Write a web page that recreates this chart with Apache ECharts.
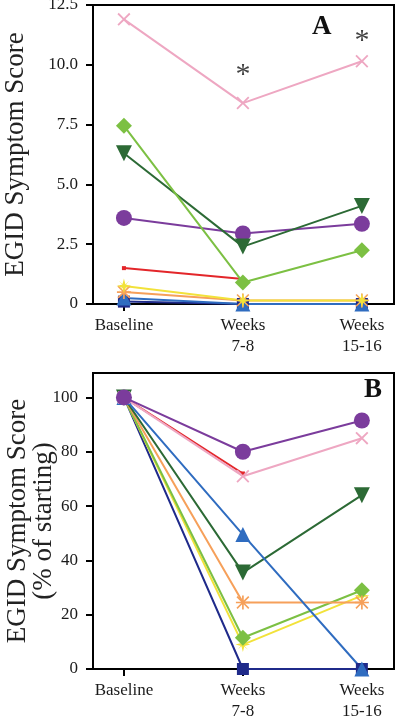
<!DOCTYPE html>
<html>
<head>
<meta charset="utf-8">
<script src="https://cdn.jsdelivr.net/npm/echarts@6/dist/echarts.min.js"></script>
<style>
html,body{margin:0;padding:0;background:#fff;}
#chart{width:400px;height:716px;}
</style>
</head>
<body>
<div id="chart"></div>
<script>
// ---- data ----
const categories = ['Baseline', 'Weeks\n7-8', 'Weeks\n15-16'];
const yTicksA = [0, 2.5, 5, 7.5, 10, 12.5];
const yTickLabelsA = ['0', '2.5', '5.0', '7.5', '10.0', '12.5'];
const yTicksB = [0, 20, 40, 60, 80, 100];
const yTickLabelsB = ['0', '20', '40', '60', '80', '100'];

// Panel A: raw EGID symptom scores
const navyA   = [0.1, 0, 0];
const blueA   = [0.25, 0, 0];
const orangeA = [0.5, 0.15, 0.15];
const yellowA = [0.75, 0.15, 0.15];
const redA    = [1.5, 1.05];
const purpleA = [3.6, 2.95, 3.35];
const dkgreenA = [6.3, 2.4, 4.1];
const ltgreenA = [7.45, 0.9, 2.25];
const pinkA   = [11.9, 8.4, 10.15];

// Panel B: % of starting
const navyB   = [100, 0, 0];
const blueB   = [100, 49.5, 0];
const orangeB = [100, 24.5, 24.5];
const yellowB = [100, 9, 27];
const redB    = [100, 72];
const purpleB = [100, 80, 91.5];
const dkgreenB = [100, 35.5, 64];
const ltgreenB = [100, 11.5, 29];
const pinkB   = [100, 71, 85];

// significance markers in panel A
const starsA = [[1, 9.55], [2, 11.0]];

// ---- styles ----
const XPATH = 'path://M1,0 L5,4 L9,0 L10,1 L6,5 L10,9 L9,10 L5,6 L1,10 L0,9 L4,5 L0,1 Z';
const ASTPATH = 'path://M4.4,0 L5.6,0 L5.6,10 L4.4,10 Z M0,4.4 L10,4.4 L10,5.6 L0,5.6 Z M1.2,0.4 L5,4.2 L8.8,0.4 L9.6,1.2 L5.8,5 L9.6,8.8 L8.8,9.6 L5,5.8 L1.2,9.6 L0.4,8.8 L4.2,5 L0.4,1.2 Z';
const STARPATH = 'path://M5,0 L6,4 L10,5 L6,6 L5,10 L4,6 L0,5 L4,4 Z M1.5,1.5 L5.3,4.6 L8.5,1.5 L5.4,5.3 L8.5,8.5 L4.7,5.4 L1.5,8.5 L4.6,4.7 Z';

const styles = {
  navy:    {color: '#1f2a8a', symbol: 'rect', size: 12, rotate: 0},
  blue:    {color: '#2f6cc0', symbol: 'triangle', size: 15, rotate: 0},
  orange:  {color: '#f6a05a', symbol: ASTPATH, size: 14, rotate: 0},
  yellow:  {color: '#f2e23a', symbol: STARPATH, size: 15, rotate: 0},
  red:     {color: '#e3262a', symbol: 'rect', size: 4, rotate: 0},
  purple:  {color: '#7b3c9c', symbol: 'circle', size: 16, rotate: 0},
  dkgreen: {color: '#2c6a35', symbol: 'triangle', size: 16, rotate: 180},
  ltgreen: {color: '#7cc043', symbol: 'diamond', size: 16, rotate: 0},
  pink:    {color: '#eea7c2', symbol: XPATH, size: 13, rotate: 0}
};

const panelA = {navy: navyA, blue: blueA, orange: orangeA, yellow: yellowA, red: redA, purple: purpleA, dkgreen: dkgreenA, ltgreen: ltgreenA, pink: pinkA};
const panelB = {navy: navyB, blue: blueB, orange: orangeB, yellow: yellowB, red: redB, purple: purpleB, dkgreen: dkgreenB, ltgreen: ltgreenB, pink: pinkB};
const orderA = ['navy', 'blue', 'orange', 'yellow', 'red', 'purple', 'dkgreen', 'ltgreen', 'pink'];
const orderB = ['navy', 'yellow', 'ltgreen', 'orange', 'dkgreen', 'blue', 'red', 'pink', 'purple'];

function mkSeries(vals, key, idx) {
  const s = styles[key];
  return {
    type: 'line',
    name: key + idx,
    xAxisIndex: idx, yAxisIndex: idx,
    data: vals.map((v, i) => [i, v]),
    symbol: s.symbol, symbolSize: s.size, symbolRotate: s.rotate,
    showAllSymbol: true,
    lineStyle: {color: s.color, width: 2},
    itemStyle: {color: s.color},
    emphasis: {disabled: true},
    animation: false, z: 3
  };
}

const series = [];
orderA.forEach(k => series.push(mkSeries(panelA[k], k, 0)));
orderB.forEach(k => series.push(mkSeries(panelB[k], k, 1)));
series.push({
  type: 'scatter', xAxisIndex: 0, yAxisIndex: 0,
  data: starsA, symbolSize: 1, itemStyle: {color: 'rgba(0,0,0,0)'},
  label: {show: true, position: 'inside', formatter: '*', color: '#111', fontSize: 30, fontFamily: 'Liberation Serif'},
  animation: false, silent: true
});

const FONT = 'Liberation Serif';
function xAxis(idx) {
  return {
    type: 'value', gridIndex: idx, min: -0.26, max: 2.27,
    axisLine: {show: true, onZero: false, lineStyle: {color: '#000', width: 2}},
    axisTick: {show: true, customValues: [0, 1, 2], length: 7, lineStyle: {color: '#000', width: 2}},
    axisLabel: {customValues: [0, 1, 2], formatter: v => categories[Math.round(v)], fontFamily: FONT, fontSize: 17, color: '#1a1a1a', lineHeight: 21, margin: 11},
    splitLine: {show: false}
  };
}
function yAxis(idx, ticks, labels, max, name, nameGap) {
  return {
    type: 'value', gridIndex: idx, min: 0, max: max,
    name: name, nameLocation: 'middle', nameGap: nameGap, nameRotate: 90,
    nameMoveOverlap: false,
    nameTextStyle: {fontFamily: FONT, fontSize: 27, color: '#222', lineHeight: 26},
    axisLine: {show: true, onZero: false, lineStyle: {color: '#000', width: 2}},
    axisTick: {show: true, customValues: ticks, length: 7, lineStyle: {color: '#000', width: 2}},
    axisLabel: {customValues: ticks, formatter: v => labels[ticks.indexOf(v)], fontFamily: FONT, fontSize: 17, color: '#1a1a1a', margin: 15},
    splitLine: {show: false}
  };
}

const chart = echarts.init(document.getElementById('chart'), null, {renderer: 'canvas'});
chart.setOption({
  animation: false,
  backgroundColor: '#fff',
  grid: [
    {left: 93, top: 5, width: 301, height: 299, containLabel: false, outerBoundsMode: 'none', show: true, borderColor: '#000', borderWidth: 2, backgroundColor: 'transparent'},
    {left: 93, top: 373, width: 301, height: 296, containLabel: false, outerBoundsMode: 'none', show: true, borderColor: '#000', borderWidth: 2, backgroundColor: 'transparent'}
  ],
  xAxis: [xAxis(0), xAxis(1)],
  yAxis: [
    yAxis(0, yTicksA, yTickLabelsA, 12.5, 'EGID Symptom Score', 64),
    yAxis(1, yTicksB, yTickLabelsB, 109, 'EGID Symptom Score\n(% of starting)', 36)
  ],
  graphic: [
    {type: 'text', left: 312, top: 14, style: {text: 'A', font: 'bold 27px "Liberation Serif"', fill: '#111'}},
    {type: 'text', left: 364, top: 377, style: {text: 'B', font: 'bold 27px "Liberation Serif"', fill: '#111'}}
  ],
  series: series
});
</script>
</body>
</html>
